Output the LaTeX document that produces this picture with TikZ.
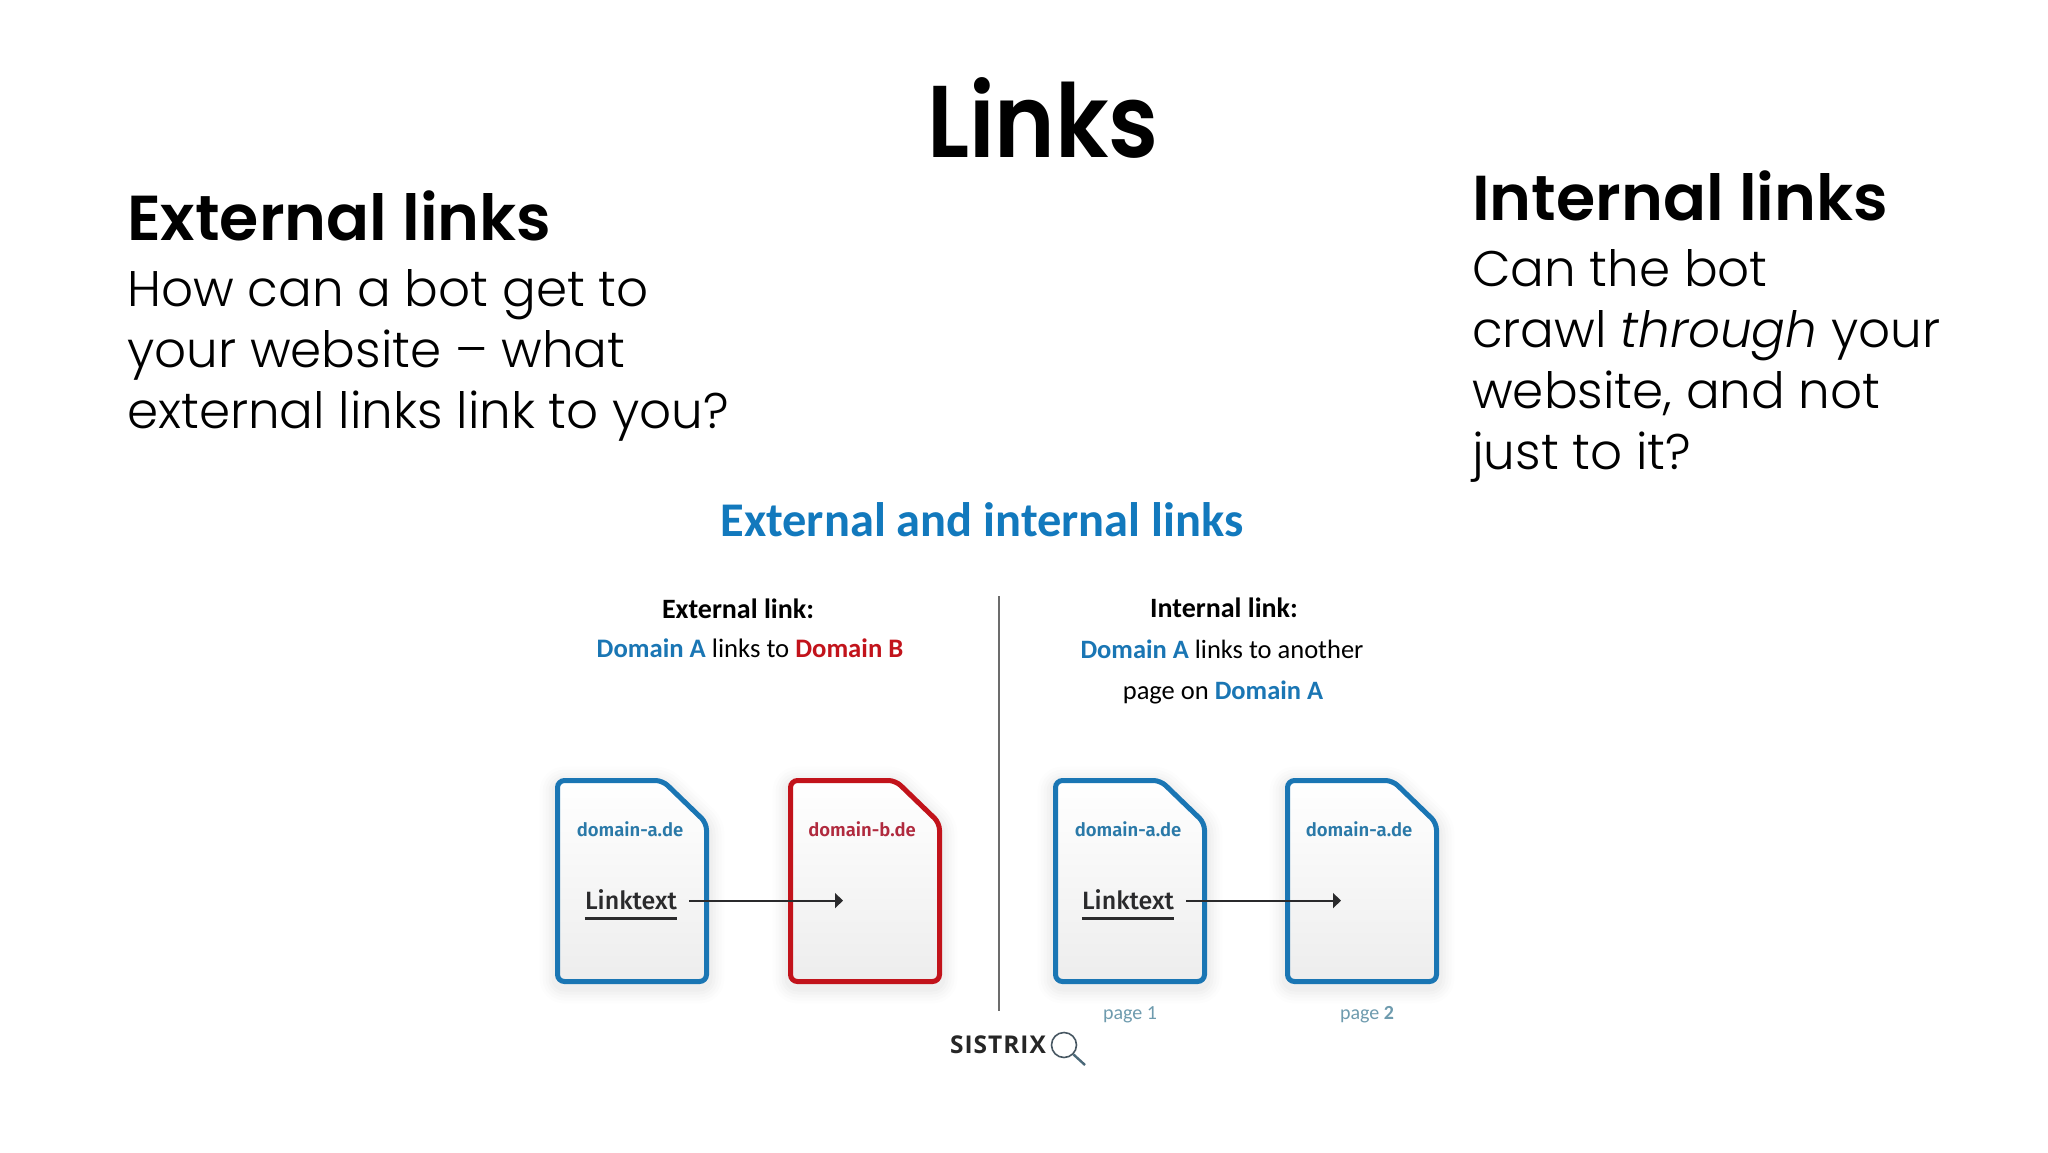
\documentclass[tikz,border=0pt]{standalone}
\usepackage{fontspec}
\usetikzlibrary{arrows.meta}
\setmainfont{Poppins}
\newfontfamily\headfont{Poppins SemiBold}
\newfontfamily\bodyfont[ItalicFont={Poppins Light Italic}]{Poppins Light}
\newfontfamily\calfont{Carlito}
\newfontfamily\dinfont[BoldFont={Fira Sans SemiBold}]{Fira Sans Medium}
\newfontfamily\logofont[LetterSpace=4]{Open Sans}
\definecolor{docblue}{HTML}{1A76B4}
\definecolor{docred}{HTML}{C2131B}
\definecolor{lblblue}{HTML}{2A79A8}
\definecolor{lblred}{HTML}{B02A3E}
\definecolor{capblue}{HTML}{1279BD}
\definecolor{darkline}{HTML}{2A2A2C}
\definecolor{pagegrey}{HTML}{6E9BAE}
\tikzset{
  headtext/.style={anchor=base west,inner sep=0pt,font=\headfont\fontsize{63.5}{68}\selectfont},
  bodytext/.style={anchor=base west,inner sep=0pt,align=left,font=\bodyfont\fontsize{50}{61}\selectfont},
  captext/.style={anchor=base,inner sep=0pt,font=\calfont\fontsize{26.7}{32}\selectfont},
  capbold/.style={anchor=base,inner sep=0pt,font=\calfont\bfseries\fontsize{28}{32}\selectfont},
  captitle/.style={anchor=base,inner sep=0pt,font=\calfont\bfseries\fontsize{48.4}{54}\selectfont,text=capblue},
  domainlbl/.style={anchor=base,inner sep=0pt,font=\dinfont\bfseries\fontsize{18.5}{22}\selectfont},
  linktxt/.style={anchor=base,inner sep=0pt,font=\dinfont\fontsize{25}{28}\selectfont,text=darkline},
  pagelbl/.style={anchor=base,inner sep=0pt,font=\calfont\fontsize{20}{24}\selectfont,text=pagegrey},
  linkarrow/.style={draw=darkline,line width=2pt,-{Triangle[length=8pt,width=15pt]},shorten <=12pt},
  linkrule/.style={draw=darkline,line width=3pt}
}
\newcommand{\docpath}[1]{[rounded corners=7pt] (#1+0,780.5) -- (#1+105,780.5) -- (#1+149,823) -- (#1+149,981.5) -- (#1+0,981.5) -- cycle}
\newcommand{\docshape}[2]{%
  \foreach \w/\o in {36/.008,30/.010,24/.012,18/.014,12/.016}{
    \draw[black,opacity=\o,line width=\w pt,line join=round,yshift=-4pt] \docpath{#1};
  }
  \shade[top color=white,middle color=white,bottom color=gray!14] \docpath{#1};
  \draw[#2,line width=5pt] \docpath{#1};
}
\begin{document}
\begin{tikzpicture}[x=1pt,y=-1pt]
\useasboundingbox (0,0) rectangle (2048,1152);
\fill[white] (0,0) rectangle (2048,1152);

\node[anchor=base,inner sep=0pt,xscale=.9,font=\headfont\fontsize{102}{110}\selectfont] (title) at (1043,157) {Links};
\node[headtext] (exthead) at (127,240.5) {External links};
\node[bodytext] (extbody) at (127,428) {How can a bot get to\\your website – what\\external links link to you?};
\node[headtext] (inthead) at (1472,220.5) {Internal links};
\node[bodytext] (intbody) at (1472,469) {Can the bot\\crawl \textit{through} your\\website, and not\\just to it?};

\node[captitle] (captitle) at (982,536) {External and internal links};
\node[capbold] (exlink) at (738,618) {External link:};
\node[captext] (exline) at (750,657) {\textcolor{docblue}{\bfseries Domain A} links to \textcolor{docred}{\bfseries Domain B}};
\node[capbold] (inlink) at (1224,617) {Internal link:};
\node[captext,font=\calfont\fontsize{26.5}{32}\selectfont] (inlinea) at (1222,658) {\textcolor{docblue}{\bfseries Domain A} links to another};
\node[captext,font=\calfont\fontsize{26.5}{32}\selectfont] (inlineb) at (1223,699) {page on \textcolor{docblue}{\bfseries Domain A}};

\coordinate (divtop) at (999,596);
\coordinate (divbot) at (999,1011);
\draw[gray!85!black,line width=2.4pt] (divtop) -- (divbot);

\docshape{557.5}{docblue}
\docshape{790.5}{docred}
\docshape{1055.5}{docblue}
\docshape{1287.5}{docblue}

\node[domainlbl,text=lblblue] (da1) at (630,836) {domain-a.de};
\node[domainlbl,text=lblred] (db) at (862,836) {domain-b.de};
\node[domainlbl,text=lblblue] (da2) at (1128,836) {domain-a.de};
\node[domainlbl,text=lblblue] (da3) at (1359,836) {domain-a.de};

\node[linktxt] (lt1) at (631,909) {Linktext};
\node[linktxt] (lt2) at (1128,909) {Linktext};
\draw[linkrule] (lt1.south west |- 0,918) -- (lt1.south east |- 0,918);
\draw[linkrule] (lt2.south west |- 0,918) -- (lt2.south east |- 0,918);

\coordinate (t1) at (843,900.6);
\coordinate (t2) at (1341,900.6);
\draw[linkarrow] (lt1.east |- t1) -- (t1);
\draw[linkarrow] (lt2.east |- t2) -- (t2);

\node[pagelbl] (p1) at (1130,1019) {page 1};
\node[pagelbl] (p2) at (1367,1019) {page \textbf{2}};

\node[anchor=base,inner sep=0pt,font=\logofont\bfseries\fontsize{24.5}{28}\selectfont,text=black!85] (logo) at (998,1053) {SISTRIX};
\node[circle,draw=black!70!cyan,line width=1.6pt,minimum size=25pt,inner sep=0pt] (lens) at (1064,1045) {};
\coordinate (handle) at (1085,1065);
\draw[black!60!cyan,line width=2.4pt] (lens.-45) -- (handle);
\end{tikzpicture}
\end{document}
